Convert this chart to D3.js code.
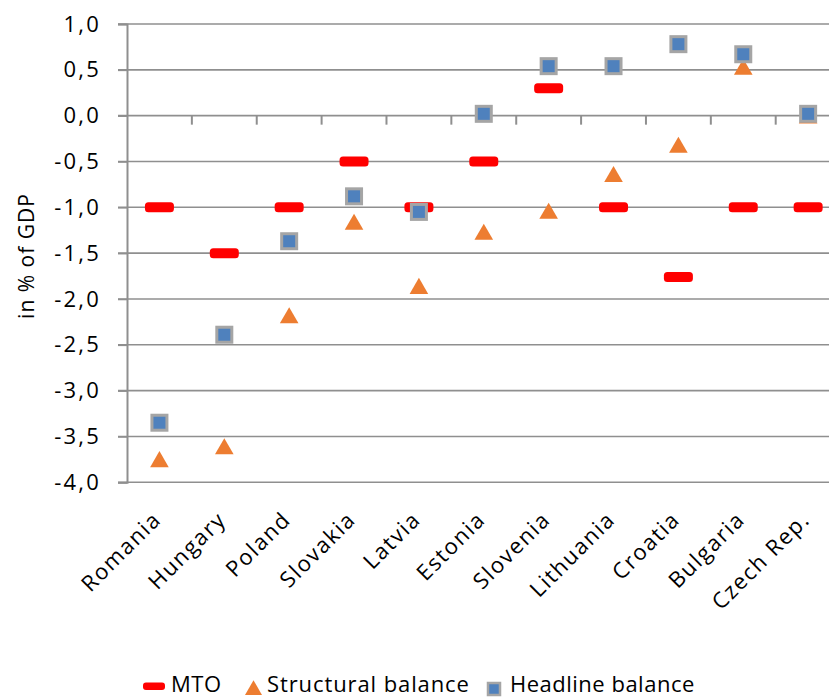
<!DOCTYPE html>
<html>
<head>
<meta charset="utf-8">
<script src="https://cdn.jsdelivr.net/npm/d3@7"></script>
<style>
  html, body { margin: 0; padding: 0; background: #fff; }
  svg { display: block; }
  text { font-family: "Open Sans", "Noto Sans", sans-serif; fill: #000; }
</style>
</head>
<body>
<div id="chart"></div>
<script>
// Fiscal balances vs. medium-term objective, % of GDP
const categories = ["Romania", "Hungary", "Poland", "Slovakia", "Latvia", "Estonia",
                    "Slovenia", "Lithuania", "Croatia", "Bulgaria", "Czech Rep."];
const mto        = [-1.0, -1.5, -1.0, -0.5, -1.0, -0.5, 0.3, -1.0, -1.76, -1.0, -1.0];
const structural = [-3.76, -3.62, -2.19, -1.17, -1.87, -1.28, -1.05, -0.65, -0.33, 0.52, -0.01];
const headline   = [-3.35, -2.39, -1.37, -0.88, -1.05, 0.02, 0.54, 0.54, 0.78, 0.67, 0.02];
const yTicks     = [1.0, 0.5, 0.0, -0.5, -1.0, -1.5, -2.0, -2.5, -3.0, -3.5, -4.0];
const legendItems = ["MTO", "Structural balance", "Headline balance"];

const W = 829, H = 697;
const plotLeft = 127, plotTop = 24, plotBottom = 482.3;
const bandW = 64.87;

const svg = d3.select("#chart").append("svg")
  .attr("width", W).attr("height", H);

const x = d3.scaleBand().domain(categories)
  .range([plotLeft, plotLeft + bandW * categories.length]).padding(0);
const y = d3.scaleLinear().domain([-4, 1]).range([plotBottom, plotTop]);

const fmt = v => v.toFixed(1).replace(".", ",");
const gridColor = "#8f8f8f";

// horizontal gridlines (extend slightly left of the axis like tick marks)
svg.append("g").selectAll("line").data(yTicks).join("line")
  .attr("x1", plotLeft - 9).attr("x2", W + 20)
  .attr("y1", d => y(d)).attr("y2", d => y(d))
  .attr("stroke", gridColor).attr("stroke-width", 1.6);

// y axis with labels
const yAxis = d3.axisLeft(y).tickValues(yTicks).tickFormat(fmt)
  .tickSize(9).tickPadding(17);
const gy = svg.append("g").attr("transform", `translate(${plotLeft},0)`).call(yAxis);
gy.select(".domain").attr("stroke", gridColor).attr("stroke-width", 2);
gy.selectAll(".tick line").attr("stroke", gridColor).attr("stroke-width", 1.6);
gy.selectAll(".tick text")
  .style("font-family", "'Open Sans', sans-serif")
  .style("font-size", "22px").style("letter-spacing", "2.2px")
  .attr("fill", "#000");

// category boundary ticks on the zero line
svg.append("g").selectAll("line").data(categories.slice(1)).join("line")
  .attr("x1", d => x(d)).attr("x2", d => x(d))
  .attr("y1", y(0)).attr("y2", y(0) + 9)
  .attr("stroke", gridColor).attr("stroke-width", 2);

// rotated category labels
svg.append("g").selectAll("text").data(categories).join("text")
  .attr("transform", d => `translate(${x(d) + x.bandwidth() / 2 + 3},${521}) rotate(-45)`)
  .attr("text-anchor", "end")
  .style("font-size", "22px").style("letter-spacing", "1.6px")
  .text(d => d);

// y axis title
svg.append("text")
  .attr("transform", `translate(34,256) rotate(-90)`)
  .attr("text-anchor", "middle")
  .style("font-size", "21px").style("letter-spacing", "1px")
  .text("in % of GDP");

const cx = i => x(categories[i]) + x.bandwidth() / 2;

// MTO markers
svg.append("g").selectAll("rect").data(mto).join("rect")
  .attr("x", (d, i) => cx(i) - 14.5).attr("y", d => y(d) - 5)
  .attr("width", 29).attr("height", 10).attr("rx", 3.5)
  .attr("fill", "#ff0000");

// structural balance triangles
const tri = d3.symbol().type(d3.symbolTriangle).size(150);
svg.append("g").selectAll("path").data(structural).join("path")
  .attr("d", tri)
  .attr("transform", (d, i) => `translate(${cx(i)},${y(d) + 1.5})`)
  .attr("fill", "#ed7d31");

// headline balance squares
svg.append("g").selectAll("rect").data(headline).join("rect")
  .attr("x", (d, i) => cx(i) - 7.5).attr("y", d => y(d) - 7.5)
  .attr("width", 15).attr("height", 15)
  .attr("fill", "#4f81bd").attr("stroke", "#a5a5a5").attr("stroke-width", 3);

// legend
const lg = svg.append("g");
const ly = 692;
lg.append("rect").attr("x", 143).attr("y", 682.5).attr("width", 22).attr("height", 7.5)
  .attr("rx", 3).attr("fill", "#ff0000");
lg.append("text").attr("x", 171).attr("y", ly).style("font-size", "22px")
  .style("letter-spacing", "0.5px").text(legendItems[0]);
lg.append("path").attr("d", d3.symbol().type(d3.symbolTriangle).size(125))
  .attr("transform", "translate(253.5,690)").attr("fill", "#ed7d31");
lg.append("text").attr("x", 267).attr("y", ly).style("font-size", "22px")
  .style("letter-spacing", "0.9px").text(legendItems[1]);
lg.append("rect").attr("x", 488).attr("y", 683).attr("width", 12).attr("height", 12)
  .attr("fill", "#4f81bd").attr("stroke", "#a5a5a5").attr("stroke-width", 2.5);
lg.append("text").attr("x", 510).attr("y", ly).style("font-size", "22px")
  .style("letter-spacing", "0.5px").text(legendItems[2]);
</script>
</body>
</html>
